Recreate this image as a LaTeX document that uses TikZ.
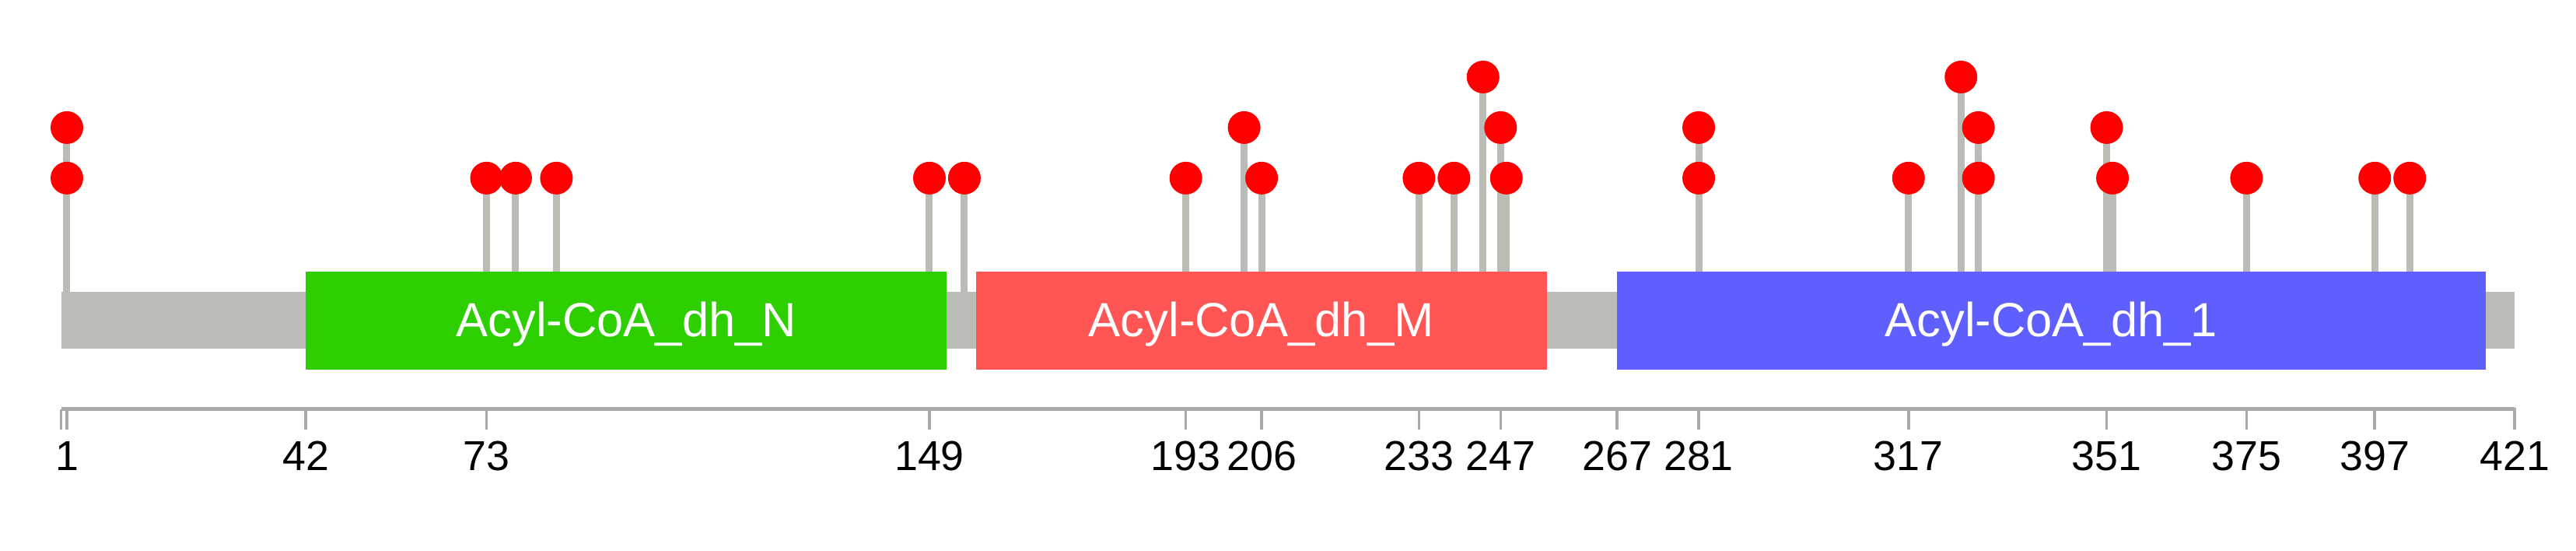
\documentclass[tikz,border=0pt]{standalone}
\usepackage{fontspec}
\setmainfont{Liberation Sans}
\usepackage{xcolor}
\usetikzlibrary{positioning}

\definecolor{backbone}{RGB}{186,188,181}
\definecolor{axisgrey}{RGB}{170,170,170}
\definecolor{domN}{RGB}{46,207,0}
\definecolor{domM}{RGB}{255,85,85}
\definecolor{domC}{RGB}{95,95,255}
\definecolor{mutred}{RGB}{255,0,0}

\begin{document}
\begin{tikzpicture}[x=0.07493cm, y=-0.01cm]
    \tikzstyle{mstem} = [draw=backbone, line width=0.09cm]
    \tikzstyle{mut} = [circle, fill=mutred, minimum size=0.42cm, inner sep=0pt]
    \tikzstyle{dlabel} = [text=white, font=\fontsize{17.5}{20}\selectfont, anchor=base, inner sep=0pt]
    \tikzstyle{ticklab} = [font=\fontsize{15.3}{18}\selectfont, anchor=base, inner sep=0pt]
    \tikzstyle{axisline} = [draw=axisgrey, line width=0.055cm]
    \tikzstyle{tickline} = [draw=axisgrey, line width=0.035cm]

    \useasboundingbox (-10.477,0) rectangle (431.54,708);

    % stems (residue/height)
    \foreach \r/\h in {1/229, 1/164, 73/229, 78/229, 85/229, 149/229, 155/229,
                       193/229, 203/164, 206/229, 233/229, 239/229, 244/99,
                       247/164, 248/229, 281/229, 281/164, 317/229, 326/99,
                       329/229, 329/164, 351/164, 352/229, 375/229, 397/229, 403/229} {
        \coordinate (top-\r-\h) at (\r,\h);
        \coordinate (bot-\r-\h) at (\r,375);
        \draw [mstem] (bot-\r-\h) -- (top-\r-\h);
    }

    % backbone and domains
    \fill [backbone] (0,375) rectangle (421,448);
    \fill [domN] (42,349) rectangle (152,475);
    \fill [domM] (157,349) rectangle (255,475);
    \fill [domC] (267,349) rectangle (416,475);
    \node [dlabel] (accN) at (97,432.5) {Acyl-CoA\_dh\_N};
    \node [dlabel] (accM) at (206,432.5) {Acyl-CoA\_dh\_M};
    \node [dlabel] (accC) at (341.5,432.5) {Acyl-CoA\_dh\_1};

    % mutation heads
    \foreach \r/\h in {1/229, 1/164, 73/229, 78/229, 85/229, 149/229, 155/229,
                       193/229, 203/164, 206/229, 233/229, 239/229, 244/99,
                       247/164, 248/229, 281/229, 281/164, 317/229, 326/99,
                       329/229, 329/164, 351/164, 352/229, 375/229, 397/229, 403/229}
        \node [mut] (m-\r-\h) at (top-\r-\h) {};

    % axis
    \coordinate (ax0) at (0,526);
    \coordinate (ax421) at (421,526);
    \draw [axisline] (ax0) -- (ax421);
    \coordinate (cap) at (0,552);
    \draw [tickline] (ax0) -- (cap);
    \foreach \t in {1,42,73,149,193,206,233,247,267,281,317,351,375,397,421} {
        \coordinate (tk\t) at (\t,524);
        \coordinate (te\t) at (\t,552);
        \draw [tickline] (tk\t) -- (te\t);
        \node [ticklab] (tl\t) at (\t,605) {\t};
    }
\end{tikzpicture}
\end{document}
